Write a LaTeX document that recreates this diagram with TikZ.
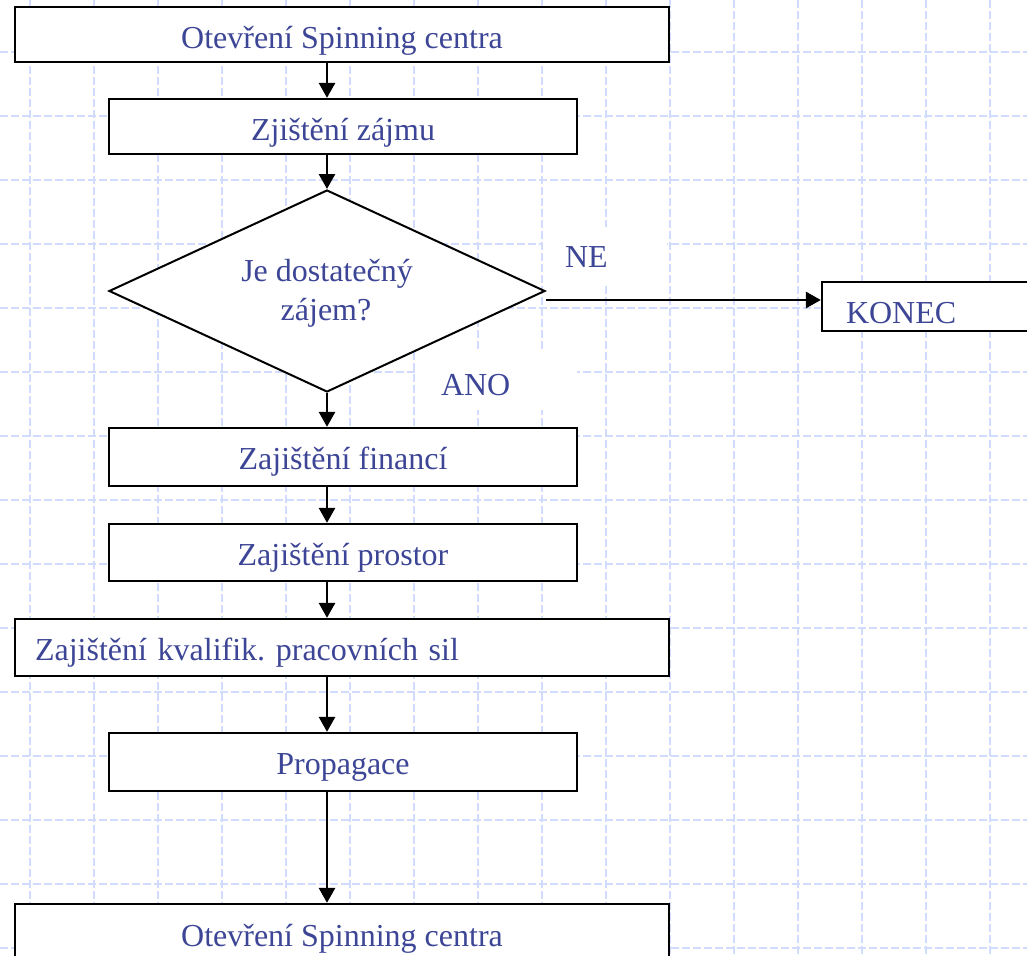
\documentclass[tikz,border=0pt]{standalone}
\usepackage{fontspec}
\setmainfont{Liberation Serif}
\usetikzlibrary{shapes.geometric,arrows.meta,calc}
\definecolor{txtblue}{RGB}{61,70,150}
\definecolor{gridblue}{RGB}{208,219,253}
\frenchspacing
\begin{document}
\begin{tikzpicture}[x=1pt,y=-1pt,
  every node/.style={font=\fontsize{32}{38.5}\selectfont, text=txtblue},
  box/.style={draw=black, line width=2.3pt, fill=white, rectangle, inner sep=0pt, text depth=0pt},
  lbl/.style={fill=white, rectangle, inner ysep=0pt, text depth=0pt, align=left},
  arr/.style={draw=black, line width=2.8pt, -{Triangle[length=15pt,width=16pt]}},
  gridline/.style={draw=gridblue, line width=1.2pt, dash pattern=on 8pt off 3pt}]
\useasboundingbox (0,0) rectangle (1027,955);
\clip (0,0) rectangle (1027,955);
\fill[white] (0,0) rectangle (1027,955);
\foreach \x in {30,94,...,990} \draw[gridline] (\x,0) -- (\x,955);
\foreach \y in {52,116,...,948} \draw[gridline] (0,\y) -- (1027,\y);

% labels with white background
\node[lbl, inner xsep=22pt, text width=80pt, minimum height=56pt, text height=25.4pt] (ne) at (605,255) {NE};
\node[lbl, inner xsep=23pt, text width=113pt, minimum height=60pt, text height=30pt] (ano) at (497.5,380) {ANO};

% boxes
\node[box, minimum width=654pt, minimum height=55pt, text height=29pt] (b1) at (342,34.5) {Otevření Spinning centra};
\node[box, minimum width=468pt, minimum height=55pt, text height=27pt] (b2) at (343,126.5) {Zjištění zájmu};
\node[diamond, draw=black, line width=2pt, fill=white, inner sep=0pt, aspect=2.16, minimum width=436pt, minimum height=202pt] (d) at (327,291) {};
\node[anchor=base] (q1) at (327,281.7) {Je dostatečný};
\node[anchor=base] (q2) at (326,320) {zájem?};
\node[box, minimum width=468pt, minimum height=58pt, text height=24.6pt] (b3) at (343,457) {Zajištění financí};
\node[box, minimum width=468pt, minimum height=57pt, text height=25pt] (b4) at (343,552.5) {Zajištění prostor};
\node[box, minimum width=654pt, minimum height=57pt, inner xsep=20pt, text width=614pt, align=left, text height=26.4pt] (b5) at (342,647.5) {Zajištění kvalifik. pracovních sil};
\node[box, minimum width=468pt, minimum height=58pt, text height=24pt] (b6) at (343,762) {Propagace};
\node[box, minimum width=654pt, minimum height=59pt, text height=26.4pt] (b7) at (342,933.5) {Otevření Spinning centra};
\node[box, minimum height=49pt, inner xsep=24pt, text width=170pt, align=left, text height=34pt] (konec) at (931,306.5) {KONEC};

% connectors
\draw[arr] (b1.south -| d.north) -- (b2.north -| d.north);
\draw[arr] (b2.south -| d.north) -- (d.north);
\draw[arr] (d.south) -- (b3.north -| d.south);
\draw[arr] (b3.south -| d.south) -- (b4.north -| d.south);
\draw[arr] (b4.south -| d.south) -- (b5.north -| d.south);
\draw[arr] (b5.south -| d.south) -- (b6.north -| d.south);
\draw[arr] (b6.south -| d.south) -- (b7.north -| d.south);
\coordinate (nestart) at ($(d.east)+(0,9)$);
\draw[arr] (nestart) -- (nestart -| konec.west);
\end{tikzpicture}
\end{document}
